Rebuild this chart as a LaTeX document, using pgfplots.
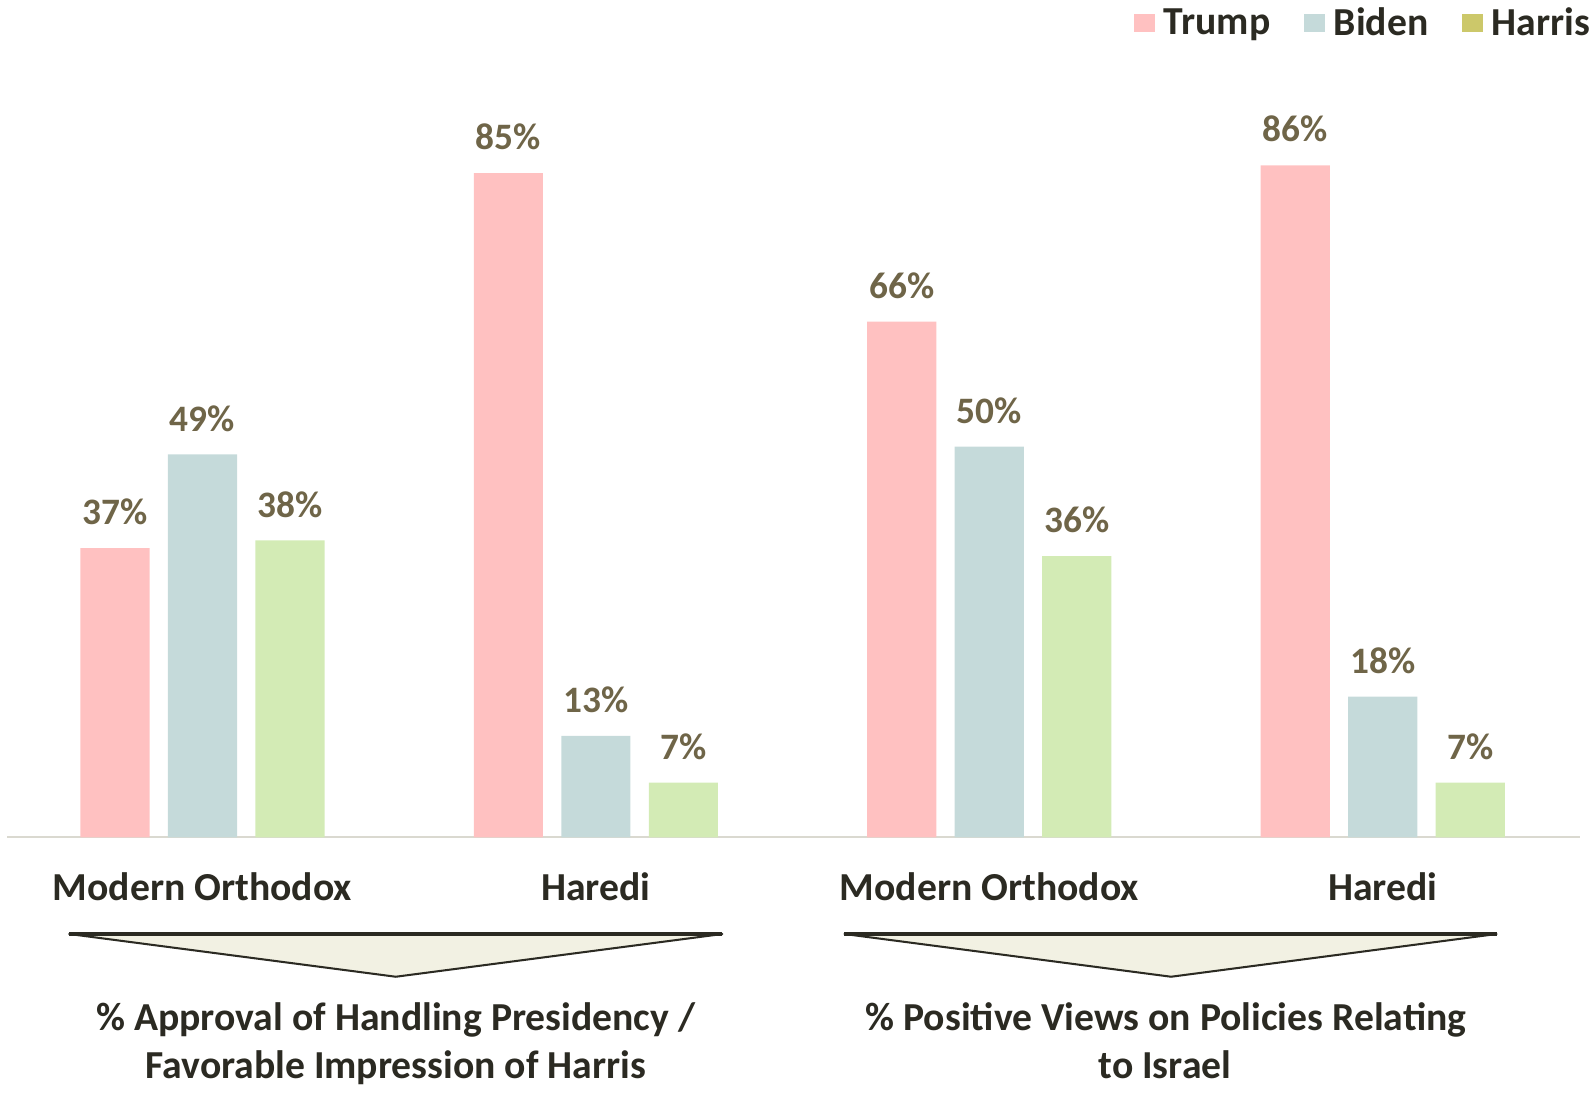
\documentclass[border=0pt]{standalone}
\usepackage{pgfplots}
\pgfplotsset{compat=1.18}
\usepackage{fontspec}
\setmainfont{Carlito}

\definecolor{trump}{HTML}{FFC1C1}
\definecolor{biden}{HTML}{C5DADA}
\definecolor{harris}{HTML}{D3EBB5}
\definecolor{harrisleg}{HTML}{CCC86A}
\definecolor{valtext}{HTML}{6F6548}
\definecolor{labeltext}{HTML}{2B2A22}
\definecolor{baseline}{HTML}{DAD9D0}
\definecolor{arrowfill}{HTML}{F2F1E3}

\newcommand{\lbl}{\bfseries\fontsize{11.7}{14}\selectfont}
\newcommand{\val}{\bfseries\fontsize{11}{13}\selectfont}

\begin{document}
\begin{tikzpicture}
% 1 unit = 0.3pt, y counted downwards from the top edge
\begin{axis}[
    at={(2.1pt,-246.9pt)}, anchor=south west,
    scale only axis, width=463.8pt, height=230.4pt,
    xmin=-0.4965, xmax=3.5017, ymin=0, ymax=100,
    axis y line=none, axis x line=bottom,
    x axis line style={-, draw=baseline, line width=0.6pt},
    xtick={0,1,2,3},
    xticklabels={Modern Orthodox, Haredi, Modern Orthodox, Haredi},
    major tick length=0pt,
    xticklabel style={anchor=base, yshift=-18.6pt, font=\lbl, text=labeltext},
    ybar, bar width=20.4pt,
    nodes near coords={\pgfmathprintnumber[assume math mode=true]{\pgfplotspointmeta}\%},
    nodes near coords style={anchor=south, inner sep=0pt, yshift=6.6pt,
        font=\val, text=valtext},
    legend columns=3,
    legend image code/.code={\fill[#1] (0pt,-2.4pt) rectangle (6pt,3pt);},
    legend style={at={(axis description cs:1,1)}, anchor=south east,
        xshift=3.2pt, yshift=4.4pt, draw=none, fill=none,
        font=\lbl, text=labeltext, inner sep=0pt,
        nodes={inner sep=0pt},
        /tikz/every odd column/.append style={column sep=2.7pt},
        /tikz/every even column/.append style={column sep=10pt}},
]
\addplot[fill=trump, draw=none, bar shift=-25.8pt, forget plot]
    coordinates {(0,37) (1,85) (2,66) (3,86)};
\addplot[fill=biden, draw=none, bar shift=0pt, forget plot]
    coordinates {(0,49) (1,13) (2,50) (3,18)};
\addplot[fill=harris, draw=none, bar shift=25.8pt, forget plot]
    coordinates {(0,38) (1,7) (2,36) (3,7)};
\addlegendimage{fill=trump, draw=none}
\addlegendimage{fill=biden, draw=none}
\addlegendimage{fill=harrisleg, draw=none}
\legend{Trump, Biden, Harris}
\end{axis}

\begin{scope}[x=0.3pt,y=-0.3pt]
\filldraw[fill=arrowfill, draw=labeltext, line width=0.6pt, line join=round]
    (68,918) -- (710,918) -- (389,960) -- cycle;
\filldraw[fill=arrowfill, draw=labeltext, line width=0.6pt, line join=round]
    (830,918) -- (1471,918) -- (1151,960) -- cycle;
\draw[labeltext, line width=0.9pt] (68,918) -- (710,918);
\draw[labeltext, line width=0.9pt] (830,918) -- (1471,918);
\node[anchor=base, inner sep=0pt, font=\lbl, text=labeltext] at (389,1013)
    {\% Approval of Handling Presidency /};
\node[anchor=base, inner sep=0pt, font=\lbl, text=labeltext] at (389,1060)
    {Favorable Impression of Harris};
\node[anchor=base, inner sep=0pt, font=\lbl, text=labeltext] at (1146,1013)
    {\% Positive Views on Policies Relating};
\node[anchor=base, inner sep=0pt, font=\lbl, text=labeltext] at (1145,1060)
    {to Israel};
\end{scope}

\pgfresetboundingbox
\path[use as bounding box] (0pt,0pt) rectangle (470.6pt,-323.2pt);
\end{tikzpicture}
\end{document}
